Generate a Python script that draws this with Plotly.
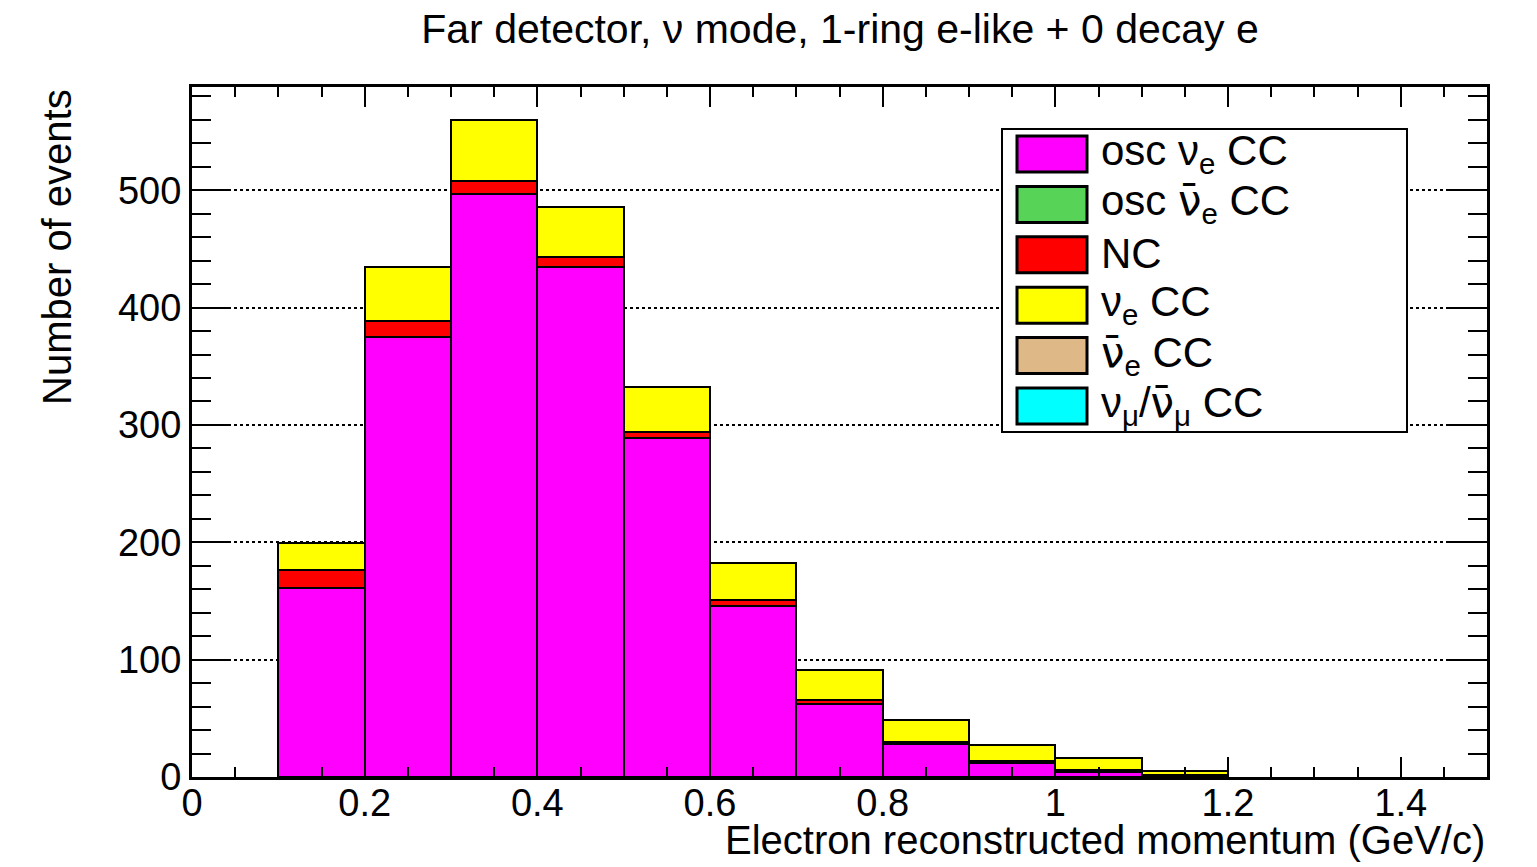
import plotly.graph_objects as go

# ---- data ----
bin_edges = [0.1, 0.2, 0.3, 0.4, 0.5, 0.6, 0.7, 0.8, 0.9, 1.0, 1.1, 1.2]
osc_nue_cc = [161, 375, 497, 435, 289, 146, 62, 28, 12, 4.5, 1]
osc_nuebar_cc = [0, 0, 0, 0, 0, 0, 0, 0, 0, 0, 0]
nc = [15.5, 13.5, 11, 8, 5, 5, 4, 2, 2, 1.5, 0.5]
nue_cc = [22.5, 46.5, 52, 43, 38, 31, 25, 19, 13, 10, 4]
nuebar_cc = [0, 0, 0, 0, 0, 0, 0, 0, 0, 0, 0]
numu_cc = [0, 0, 0, 0, 0, 0, 0, 0, 0, 0, 0]

NUBAR = '<span style="font-family:DejaVu Sans">\u03bd\u0304</span>'
series_values = [osc_nue_cc, osc_nuebar_cc, nc, nue_cc, nuebar_cc, numu_cc]
series_labels = [
    "osc ν<sub>e</sub> CC",
    "osc " + NUBAR + "<sub>e</sub> CC",
    "NC",
    "ν<sub>e</sub> CC",
    NUBAR + "<sub>e</sub> CC",
    "ν<sub>μ</sub>/" + NUBAR + "<sub>μ</sub> CC",
]
series_colors = ["#ff00ff", "#57d357", "#ff0000", "#ffff00", "#deb887", "#00ffff"]

title_text = "Far detector, ν mode, 1-ring e-like + 0 decay e"
x_title = "Electron reconstructed momentum (GeV/c)"
y_title = "Number of events"
x_tick_vals = [0, 0.2, 0.4, 0.6, 0.8, 1.0, 1.2, 1.4]
x_tick_text = ["0", "0.2", "0.4", "0.6", "0.8", "1", "1.2", "1.4"]
y_tick_vals = [0, 100, 200, 300, 400, 500]
y_tick_text = ["0", "100", "200", "300", "400", "500"]

FONT = "Liberation Sans, Arial, Helvetica, sans-serif"

centers = [(a + b) / 2 for a, b in zip(bin_edges[:-1], bin_edges[1:])]
widths = [b - a for a, b in zip(bin_edges[:-1], bin_edges[1:])]
totals = [sum(v) for v in zip(*series_values)]
ymax = 1.05 * max(totals)

fig = go.Figure()
for vals, lab, col in zip(series_values, series_labels, series_colors):
    fig.add_trace(go.Bar(
        x=centers, y=vals, width=widths, name=lab,
        marker=dict(color=col, line=dict(color="black", width=2)),
        showlegend=False,
    ))

# figure fills the whole window (body margin removed in post_script)
W, H = 1537, 867
PL, PT, PR, PB = 192, 87, 1487, 777
pw, ph = PR - PL, PB - PT
L, T = PL, PT
R, B = W - PR, H - PB

def px_x(x):
    return (x - PL) / pw

def px_y(y):
    return (PB - y) / ph

# ROOT-style legend box
fig.add_shape(type="rect", xref="paper", yref="paper",
              x0=px_x(1002), x1=px_x(1407), y0=px_y(432), y1=px_y(129),
              line=dict(color="black", width=2), fillcolor="white", layer="above")
for i, (lab, col) in enumerate(zip(series_labels, series_colors)):
    top = 136 + 50.4 * i
    fig.add_shape(type="rect", xref="paper", yref="paper",
                  x0=px_x(1017), x1=px_x(1087), y0=px_y(top + 36), y1=px_y(top),
                  line=dict(color="black", width=3), fillcolor=col, layer="above")
    fig.add_annotation(xref="paper", yref="paper", x=px_x(1099), y=px_y(top + 17),
                       xanchor="left", yanchor="middle", text=lab, showarrow=False,
                       font=dict(family=FONT, size=42, color="black"))

fig.add_annotation(xref="paper", yref="paper", x=1.0, y=px_y(840),
                   xanchor="right", yanchor="middle", text=x_title, showarrow=False,
                   font=dict(family=FONT, size=40, color="black"))
fig.add_annotation(xref="paper", yref="paper", x=px_x(57), y=1.0,
                   xanchor="center", yanchor="top", text=y_title, textangle=-90,
                   showarrow=False, font=dict(family=FONT, size=40, color="black"))

fig.update_layout(
    width=W, height=H,
    margin=dict(l=L, r=R, t=T, b=B),
    paper_bgcolor="white", plot_bgcolor="white",
    barmode="stack", bargap=0,
    title=dict(text=title_text, x=840 / W, xanchor="center",
               y=1 - 29 / H, yanchor="middle",
               font=dict(family=FONT, size=41, color="black")),
    font=dict(family=FONT, size=38, color="black"),
)
fig.update_xaxes(
    range=[0, 1.5], tickvals=x_tick_vals, ticktext=x_tick_text,
    ticks="inside", ticklen=20, tickwidth=2, tickcolor="black",
    minor=dict(dtick=0.05, tick0=0, ticks="inside", ticklen=10, tickwidth=2,
               tickcolor="black", showgrid=False),
    showline=True, linecolor="black", linewidth=3, mirror="allticks",
    showgrid=False, zeroline=False, layer="above traces",
    ticklabelstandoff=-10,
    tickfont=dict(family=FONT, size=38, color="black"),
)
fig.update_yaxes(
    range=[0, ymax], tickvals=y_tick_vals, ticktext=y_tick_text,
    ticks="inside", ticklen=38, tickwidth=2, tickcolor="black",
    minor=dict(dtick=20, tick0=0, ticks="inside", ticklen=19, tickwidth=2,
               tickcolor="black", showgrid=False),
    showline=True, linecolor="black", linewidth=3, mirror="allticks",
    showgrid=True, gridcolor="black", griddash="dot", gridwidth=2,
    zeroline=False, layer="above traces",
    tickfont=dict(family=FONT, size=38, color="black"),
)

fig.write_html(
    "out.html",
    config={"displayModeBar": False},
    post_script="document.body.style.margin='0px';document.body.style.overflow='hidden';",
)
